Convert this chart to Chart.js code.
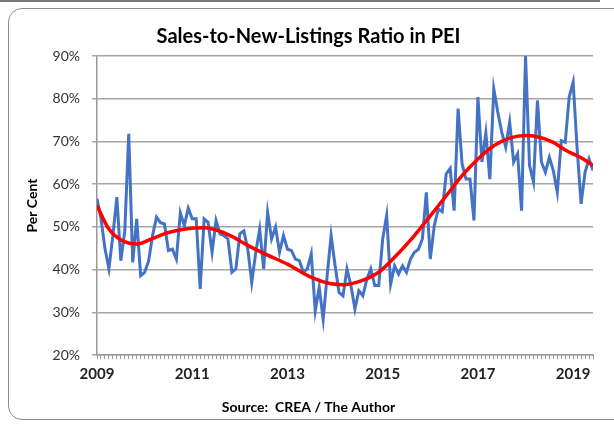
<!DOCTYPE html>
<html>
<head>
<meta charset="utf-8">
<script src="https://cdn.jsdelivr.net/npm/chart.js@4/dist/chart.umd.min.js"></script>
<style>
  body { margin: 0; background: #fff; }
  #wrap { position: relative; width: 614px; height: 425px; overflow: hidden; }
  #topline { position: absolute; left: 0; top: 0; width: 600px; height: 2px; background: #777; }
  #frame { position: absolute; left: 8px; top: 8px; width: 640px; height: 412px;
           border: 1px solid #8c8c8c; border-radius: 14px; box-sizing: border-box; }
  canvas { position: absolute; left: 0; top: 0; }
</style>
</head>
<body>
<div id="wrap">
  <div id="topline"></div>
  <div id="frame"></div>
  <canvas id="chart" width="614" height="425"></canvas>
</div>
<script>
// monthly sales-to-new-listings ratio (%), Jan 2009 .. Jun 2019
const startYear = 2009;
const ratio = [
  56.6, 52, 45, 40.2, 48, 57, 42.1, 49, 71.8, 41.7,
  51.9, 38.6, 39.4, 42, 48, 52.3, 51, 50.7, 44.5, 44.8,
  42.5, 53.3, 50.3, 54.4, 51.9, 51.9, 35.5, 51.9, 51.1, 44.1,
  51.5, 48.4, 48, 47.2, 39.4, 40.2, 48.4, 49.1, 44.8, 37,
  44, 49.5, 40.2, 53.4, 47.2, 50, 44.1, 48, 44.8, 44.5,
  42.5, 42.1, 39.4, 40.2, 43.7, 30.4, 35.9, 28.4, 38.6, 48,
  41, 34.7, 33.9, 40.2, 36.3, 30.8, 35.1, 33.9, 37.8, 40.2,
  36.3, 36.3, 47.2, 52.7, 36.6, 40.9, 39, 40.9, 39.4, 42.5,
  44.1, 44.8, 47.2, 58.1, 42.5, 50.3, 54.2, 53.6, 62.4, 63.7,
  53.8, 77.7, 64.8, 61.2, 61.2, 51.5, 80.4, 65.2, 72, 61.2,
  82.3, 76.9, 72.2, 68.7, 74.5, 65.2, 67.1, 53.8, 90, 64.4,
  60.5, 79.6, 65.2, 62.8, 66.3, 63.2, 58.1, 70.2, 69.8, 80.4,
  83.9, 68.3, 55.4, 62.8, 65.9, 63.2
];

// trend line (month index from Jan 2009, %)
const trendMonth = [0, 3, 6, 10, 14, 18, 24, 27, 30, 34, 38, 43, 48, 54, 59, 62, 66, 71, 75, 79, 84, 88, 92, 96, 100, 104, 108, 111, 115, 118, 122, 125];
const trendValue = [55, 49.5, 47, 46, 47.3, 48.7, 49.7, 49.8, 49.3, 47.8, 45.7, 43.4, 41.3, 38.2, 36.7, 36.5, 37.2, 39.4, 42.9, 46.9, 52.6, 57.3, 62, 65.9, 69, 70.8, 71.4, 71.1, 69.8, 68, 66.2, 64.4];

const yTicks = [20, 30, 40, 50, 60, 70, 80, 90];

const font = 'Lato, "Open Sans", sans-serif';

new Chart(document.getElementById('chart').getContext('2d'), {
  type: 'line',
  data: {
    datasets: [
      {
        label: 'Trend',
        data: trendMonth.map((m, i) => ({ x: m, y: trendValue[i] })),
        borderColor: '#ff0000',
        borderWidth: 3.5,
        pointRadius: 0,
        cubicInterpolationMode: 'monotone'
      },
      {
        label: 'Ratio',
        data: ratio.map((v, i) => ({ x: i, y: v })),
        borderColor: '#4472c4',
        borderWidth: 3,
        pointRadius: 0,
        tension: 0
      }
    ]
  },
  options: {
    responsive: false,
    animation: false,
    layout: { padding: { left: 24, right: 21, top: 0, bottom: 0 } },
    plugins: {
      legend: { display: false },
      tooltip: { enabled: false },
      title: {
        display: true,
        text: 'Sales-to-New-Listings Ratio in PEI',
        color: '#000',
        font: { family: font, size: 20, weight: 'bold' },
        padding: { top: 25, bottom: 7 }
      },
      subtitle: {
        display: true,
        position: 'bottom',
        text: 'Source:  CREA / The Author',
        color: '#000',
        font: { family: font, size: 14, weight: 'bold' },
        padding: { top: 0, bottom: 9 }
      }
    },
    scales: {
      x: {
        type: 'linear',
        min: 0,
        max: ratio.length - 1,
        afterFit: s => { s.height = 44; },
        border: { color: '#999', width: 1.5 },
        grid: { drawOnChartArea: false, drawTicks: true, tickLength: 4, color: '#999' },
        ticks: {
          stepSize: 1,
          autoSkip: false,
          maxRotation: 0,
          maxTicksLimit: 500,
          padding: 6,
          color: '#222',
          font: { family: font, size: 15, weight: 'bold' },
          callback: v => (v % 24 === 0 ? String(startYear + v / 12) : '')
        }
      },
      y: {
        min: 20,
        max: 90,
        afterFit: s => { s.width = 73; },
        afterBuildTicks: s => { s.ticks = yTicks.map(v => ({ value: v })); },
        border: { color: '#999', width: 1.5 },
        grid: { color: '#a6a6a6', lineWidth: 1.5, tickLength: 5 },
        ticks: {
          padding: 12,
          color: '#333',
          font: { family: font, size: 14 },
          callback: v => v + '%'
        },
        title: {
          display: true,
          text: 'Per Cent',
          color: '#000',
          font: { family: font, size: 14, weight: 'bold' },
          padding: { top: 0, bottom: 0 }
        }
      }
    }
  }
});
</script>
</body>
</html>
